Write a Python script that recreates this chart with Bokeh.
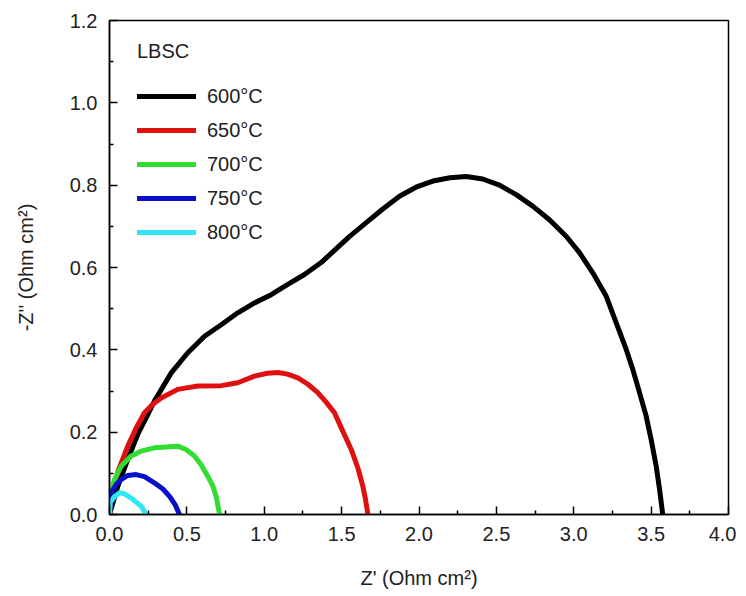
from bokeh.plotting import figure
from bokeh.models import FixedTicker, Legend, LegendItem, Range1d, PrintfTickFormatter
from bokeh.embed import file_html
from bokeh.resources import INLINE

# ---- data ----
x600 = [0.0, 0.054, 0.118, 0.183, 0.248, 0.291, 0.399, 0.506, 0.614, 0.722, 0.829, 0.937, 1.045,
        1.152, 1.26, 1.368, 1.443, 1.55, 1.659, 1.766, 1.874, 1.98, 2.09, 2.2, 2.305, 2.412,
        2.52, 2.628, 2.735, 2.843, 2.951, 3.037, 3.123, 3.21, 3.274, 3.339, 3.382, 3.425, 3.468,
        3.5, 3.533, 3.555, 3.575]
y600 = [0.0, 0.069, 0.134, 0.195, 0.243, 0.276, 0.344, 0.393, 0.433, 0.461, 0.49, 0.514, 0.534,
        0.559, 0.583, 0.612, 0.638, 0.675, 0.709, 0.742, 0.773, 0.795, 0.81, 0.818, 0.821, 0.815,
        0.8, 0.777, 0.749, 0.716, 0.676, 0.636, 0.587, 0.53, 0.466, 0.401, 0.352, 0.296, 0.239,
        0.182, 0.117, 0.06, 0.0]

x650 = [0.0, 0.011, 0.06, 0.118, 0.172, 0.226, 0.28, 0.334, 0.441, 0.571, 0.722, 0.829, 0.937,
        1.02, 1.088, 1.15, 1.217, 1.28, 1.346, 1.4, 1.454, 1.497, 1.562, 1.605, 1.637, 1.655, 1.67]
y650 = [0.0, 0.053, 0.11, 0.166, 0.21, 0.247, 0.268, 0.283, 0.304, 0.312, 0.313, 0.32, 0.336,
        0.343, 0.345, 0.341, 0.332, 0.317, 0.296, 0.273, 0.247, 0.211, 0.158, 0.113, 0.069, 0.035, 0.0]

x700 = [0.0, 0.0, 0.032, 0.075, 0.14, 0.205, 0.29, 0.366, 0.442, 0.495, 0.549, 0.592, 0.635,
        0.668, 0.689, 0.711]
y700 = [0.0, 0.044, 0.085, 0.117, 0.142, 0.154, 0.162, 0.164, 0.166, 0.158, 0.142, 0.121, 0.093,
        0.069, 0.044, 0.0]

x750 = [0.0, 0.011, 0.043, 0.075, 0.118, 0.172, 0.226, 0.29, 0.345, 0.388, 0.424, 0.452]
y750 = [0.0, 0.053, 0.073, 0.085, 0.095, 0.097, 0.092, 0.077, 0.062, 0.044, 0.024, 0.0]

x800 = [0.0, 0.005, 0.032, 0.065, 0.097, 0.14, 0.172, 0.205, 0.237]
y800 = [0.0, 0.029, 0.043, 0.053, 0.05, 0.04, 0.03, 0.02, 0.0]

series_labels = ["600°C", "650°C", "700°C", "750°C", "800°C"]
series_colors = ["#000000", "#e01010", "#30dd30", "#0a10c8", "#30e6f5"]

x_ticks = [0.0, 0.5, 1.0, 1.5, 2.0, 2.5, 3.0, 3.5, 4.0]
x_minor = [0.25, 0.75, 1.25, 1.75, 2.25, 2.75, 3.25, 3.75]
y_ticks = [0.0, 0.2, 0.4, 0.6, 0.8, 1.0, 1.2]
y_minor = [0.1, 0.3, 0.5, 0.7, 0.9, 1.1]

FONT = "Liberation Sans"
TXT = "#222222"

p = figure(frame_width=619, frame_height=494, output_backend="svg", toolbar_location=None,
           x_range=Range1d(0, 4.0), y_range=Range1d(0, 1.2),
           min_border_left=109, min_border_top=20, min_border_right=8, min_border_bottom=78)
p.background_fill_color = "white"
p.border_fill_color = "white"
p.grid.visible = False
p.outline_line_color = "black"
p.outline_line_width = 1.5
p.outline_line_alpha = 1.0

for ax, ticks, minor in ((p.xaxis[0], x_ticks, x_minor), (p.yaxis[0], y_ticks, y_minor)):
    ax.ticker = FixedTicker(ticks=ticks, minor_ticks=minor)
    ax.formatter = PrintfTickFormatter(format="%.1f")
    ax.axis_line_color = "black"
    ax.axis_line_width = 1.5
    ax.major_tick_in = 8
    ax.major_tick_out = 0
    ax.minor_tick_in = 4
    ax.minor_tick_out = 0
    ax.major_tick_line_width = 1.5
    ax.minor_tick_line_width = 1.5
    ax.major_tick_line_color = "black"
    ax.minor_tick_line_color = "black"
    ax.major_label_text_font = FONT
    ax.major_label_text_font_size = "20px"
    ax.major_label_text_color = TXT
    ax.axis_label_text_font = FONT
    ax.axis_label_text_font_size = "20px"
    ax.axis_label_text_font_style = "normal"
    ax.axis_label_text_color = TXT

p.xaxis.axis_label = "Z' (Ohm cm\u00b2)"
p.yaxis.axis_label = "-Z'' (Ohm cm\u00b2)"
p.xaxis.major_label_standoff = 12
p.yaxis.major_label_standoff = 12
p.xaxis.axis_label_standoff = 23
p.yaxis.axis_label_standoff = 30

xs = [x600, x650, x700, x750, x800]
ys = [y600, y650, y700, y750, y800]
items = []
for xv, yv, lab, col in zip(xs, ys, series_labels, series_colors):
    r = p.line(xv, yv, line_color=col, line_width=5, line_join="round", line_cap="round")
    items.append(LegendItem(label=lab, renderers=[r]))

legend = Legend(items=items, location=(28, 265), title="LBSC",
                title_text_font=FONT, title_text_font_size="20px", title_text_font_style="normal",
                title_text_color=TXT, title_standoff=16,
                label_text_font=FONT, label_text_font_size="20px", label_text_color=TXT,
                glyph_width=59, glyph_height=34, label_height=34, spacing=0,
                label_standoff=11, padding=0, margin=0,
                border_line_color=None, background_fill_alpha=0.0)
p.add_layout(legend, "center")

open("out.html", "w").write(file_html(p, INLINE))
